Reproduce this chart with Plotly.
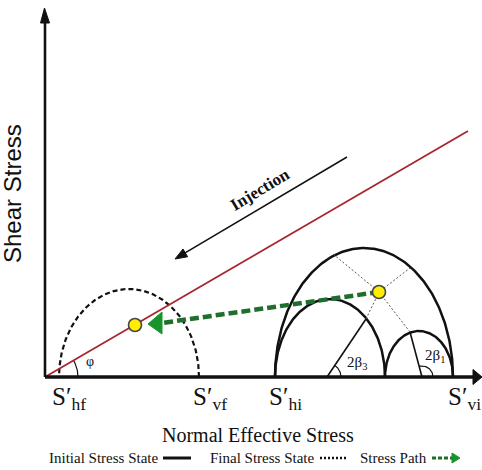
import numpy as np
import plotly.graph_objects as go

# ---------------- data (schematic stress units) ----------------
stress_labels = ["S′<sub>hf</sub>", "S′<sub>vf</sub>", "S′<sub>hi</sub>", "S′<sub>vi</sub>"]
stress_values = [14, 154, 230, 408]          # normal effective stresses on the axis
label_left = [5, 146, 222, 401]              # left edge of each axis label

# initial Mohr circles (solid): left stress, right stress, peak shear
initial_left = [230, 230, 340]
initial_right = [408, 340, 408]
initial_peak = [129, 78, 46]
# final Mohr circle (dashed)
final_left = [14]
final_right = [154]
final_peak = [88]

# failure envelope (Coulomb line) end point
envelope_sigma = [0, 423]
envelope_tau = [0, 246]

# stress points on the plane of interest
point_sigma = [334, 90]
point_tau = [85, 52]

# stress path (dashed green) and its arrow head
path_sigma = [334, 117]
path_tau = [85, 54]
arrow_tip = [103, 53]

# construction lines inside the initial circles
beta1_solid_sigma = [377, 365]
beta1_solid_tau = [0, 45]
beta1_dot_sigma = [365, 334, 288]
beta1_dot_tau = [45, 85, 123]
beta3_solid_sigma = [282, 321]
beta3_solid_tau = [0, 58]
beta3_dot_sigma = [321, 334, 365]
beta3_dot_tau = [58, 85, 109]

# injection arrow (tail -> head)
inj_tail = [302, 220]
inj_head = [130, 118]

fig = go.Figure()

black = "#111111"
serif = "Liberation Serif"

def semicircle(l, r, peak):
    t = np.linspace(0, np.pi, 240)
    c = (l + r) / 2.0
    rad = (r - l) / 2.0
    return c + rad * np.cos(t), peak * np.sin(t)

for l, r, p in zip(initial_left, initial_right, initial_peak):
    x, y = semicircle(l, r, p)
    fig.add_trace(go.Scatter(x=x, y=y, mode="lines",
                             line=dict(color=black, width=2.5), hoverinfo="skip"))
for l, r, p in zip(final_left, final_right, final_peak):
    x, y = semicircle(l, r, p)
    fig.add_trace(go.Scatter(x=x, y=y, mode="lines",
                             line=dict(color=black, width=2.2, dash="5px,3px"), hoverinfo="skip"))

# construction lines
for xs, ys in [(beta1_dot_sigma, beta1_dot_tau), (beta3_dot_sigma, beta3_dot_tau)]:
    fig.add_trace(go.Scatter(x=xs, y=ys, mode="lines",
                             line=dict(color="#555555", width=1, dash="2px,2px"), hoverinfo="skip"))
for xs, ys in [(beta1_solid_sigma, beta1_solid_tau), (beta3_solid_sigma, beta3_solid_tau)]:
    fig.add_trace(go.Scatter(x=xs, y=ys, mode="lines",
                             line=dict(color=black, width=1.6), hoverinfo="skip"))

# angle arcs
def arc(cx, cy, rad, a0, a1):
    t = np.linspace(a0, a1, 40)
    return cx + rad * np.cos(t), cy + rad * np.sin(t)

phi = np.arctan2(envelope_tau[1], envelope_sigma[1])
b3 = np.arctan2(beta3_solid_tau[1] - beta3_solid_tau[0], beta3_solid_sigma[1] - beta3_solid_sigma[0])
b1 = np.arctan2(beta1_solid_tau[1] - beta1_solid_tau[0], beta1_solid_sigma[1] - beta1_solid_sigma[0])
for cx, rad, ang in [(0, 33, phi), (beta3_solid_sigma[0], 14, b3), (beta1_solid_sigma[0], 11, b1)]:
    x, y = arc(cx, 0, rad, 0, ang)
    fig.add_trace(go.Scatter(x=x, y=y, mode="lines",
                             line=dict(color=black, width=1.2), hoverinfo="skip"))

# failure envelope
fig.add_trace(go.Scatter(x=envelope_sigma, y=envelope_tau, mode="lines",
                         line=dict(color="#a8262e", width=1.8), hoverinfo="skip"))

# stress path
fig.add_trace(go.Scatter(x=path_sigma, y=path_tau, mode="lines",
                         line=dict(color="#1e6e2c", width=4.5, dash="9px,4px"), hoverinfo="skip"))
fig.add_shape(type="path",
              path=f"M {arrow_tip[0]},{arrow_tip[1]} L {path_sigma[1]},{path_tau[1]-11} "
                   f"L {path_sigma[1]},{path_tau[1]+11} Z",
              fillcolor="#18952a", line=dict(color="#18952a", width=1))

# stress points
fig.add_trace(go.Scatter(x=point_sigma, y=point_tau, mode="markers",
                         marker=dict(size=13, color="#ffee00",
                                     line=dict(color="#444444", width=1.6)),
                         hoverinfo="skip"))

# injection arrow (line + head)
fig.add_trace(go.Scatter(x=[inj_tail[0], inj_head[0] + 8], y=[inj_tail[1], inj_head[1] + 4.8],
                         mode="lines", line=dict(color=black, width=1.5), hoverinfo="skip"))
ang = np.arctan2(inj_head[1] - inj_tail[1], inj_head[0] - inj_tail[0])
ux, uy = np.cos(ang), np.sin(ang)
bx, by = inj_head[0] - 12 * ux, inj_head[1] - 12 * uy
px_, py_ = -uy, ux
fig.add_shape(type="path",
              path=f"M {inj_head[0]},{inj_head[1]} L {bx + 4.5*px_},{by + 4.5*py_} "
                   f"L {bx - 4.5*px_},{by - 4.5*py_} Z",
              fillcolor=black, line=dict(color=black, width=1))

# axes with arrows
fig.add_shape(type="line", x0=0, y0=0, x1=0, y1=356, line=dict(color=black, width=2.6))
fig.add_shape(type="path", path="M -4.5,354 L 4.5,354 L -0.5,369 Z",
              fillcolor=black, line=dict(color=black, width=1))
fig.add_shape(type="line", x0=0, y0=0, x1=430, y1=0, line=dict(color=black, width=3.5))
fig.add_shape(type="path", path="M 428,-7.5 L 428,7.5 L 437,0 Z",
              fillcolor=black, line=dict(color=black, width=1))

fig.add_annotation(x=215, y=188, xref="x", yref="y", text="<b>Injection</b>",
                   textangle=-31, showarrow=False,
                   font=dict(family=serif, size=17, color=black))

# axis labels (S' with subscript)
for lab, xl in zip(stress_labels, label_left):
    fig.add_annotation(x=xl, y=-21, xref="x", yref="y", text=lab, showarrow=False,
                       xanchor="left", yanchor="middle",
                       font=dict(family=serif, size=25, color=black))

# angle labels
fig.add_annotation(x=45, y=16, text="φ", showarrow=False,
                   font=dict(family=serif, size=14, color=black))
fig.add_annotation(x=312, y=14, text="2β<sub>3</sub>", showarrow=False,
                   font=dict(family=serif, size=15, color=black))
fig.add_annotation(x=390, y=21, text="2β<sub>1</sub>", showarrow=False,
                   font=dict(family=serif, size=15, color=black))

# axis titles
fig.add_annotation(x=213, y=-58, text="Normal Effective Stress", showarrow=False,
                   font=dict(family=serif, size=20, color=black))
fig.add_annotation(x=-33, y=183, text="Shear Stress", showarrow=False, textangle=-90,
                   font=dict(family="Liberation Sans", size=24, color=black))

# legend row
leg_y = -81
fig.add_annotation(x=2, y=leg_y, text="Initial Stress State", showarrow=False,
                   xanchor="left", font=dict(family=serif, size=15, color=black))
fig.add_shape(type="line", x0=118, x1=146, y0=leg_y, y1=leg_y, line=dict(color=black, width=3))
fig.add_annotation(x=163, y=leg_y, text="Final Stress State", showarrow=False,
                   xanchor="left", font=dict(family=serif, size=15, color=black))
fig.add_shape(type="line", x0=275, x1=303, y0=leg_y, y1=leg_y,
              line=dict(color=black, width=2.5, dash="2px,2px"))
fig.add_annotation(x=313, y=leg_y, text="Stress Path", showarrow=False,
                   xanchor="left", font=dict(family=serif, size=15, color=black))
fig.add_shape(type="line", x0=387, x1=407, y0=leg_y, y1=leg_y,
              line=dict(color="#1e6e2c", width=3, dash="4px,2px"))
fig.add_shape(type="path", path=f"M 407,{leg_y-5} L 407,{leg_y+5} L 415,{leg_y} Z",
              fillcolor="#18952a", line=dict(color="#18952a", width=1))

fig.update_layout(
    width=482, height=470,
    margin=dict(l=0, r=0, t=0, b=0),
    paper_bgcolor="white", plot_bgcolor="white",
    showlegend=False,
    xaxis=dict(range=[-45, 437], visible=False, fixedrange=True),
    yaxis=dict(range=[-93, 377], visible=False, fixedrange=True),
)

fig.write_html("out.html",
               config={"displayModeBar": False, "staticPlot": True},
               post_script="document.body.style.margin='0';document.body.style.padding='0';")
